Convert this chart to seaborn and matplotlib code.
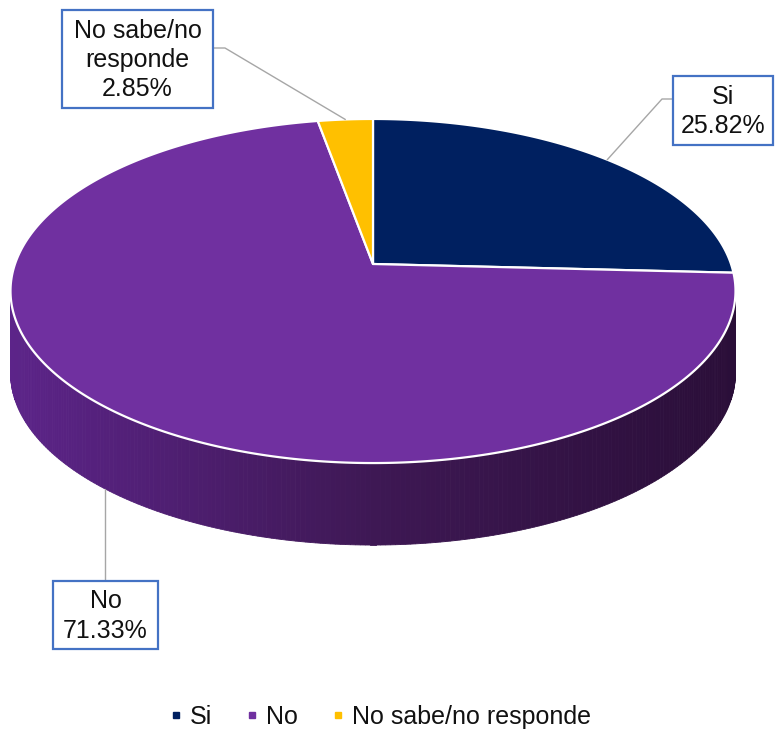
import numpy as np
import matplotlib
matplotlib.use("Agg")
import matplotlib.pyplot as plt
import seaborn as sns
from matplotlib.patches import Polygon, Rectangle
from matplotlib.lines import Line2D

# ---- data ----
categories = ["Si", "No", "No sabe/no responde"]
values = [25.82, 71.33, 2.85]
label_names = ["Si", "No", "No sabe/no\nresponde"]
slice_colors = ["#002060", "#7030A0", "#FFC000"]

sns.set_theme(style="white")
plt.rcParams["font.family"] = ["Liberation Sans", "DejaVu Sans"]
palette = sns.color_palette(slice_colors)

# ---- geometry of the tilted (perspective) pie ----
CX, CY = 373, 264
A, B, Q = 358, 167.8, 0.157
DEPTH = 82


def proj(theta_deg, depth=0.0):
    t = np.radians(theta_deg)
    X, Y = np.sin(t), np.cos(t)
    den = 1 + Q * Y
    return CX + A * X / den, CY - B * Y / den + depth


fig = plt.figure(figsize=(7.75, 7.30), dpi=100)
ax = fig.add_axes([0, 0, 1, 1])
ax.set_xlim(0, 775)
ax.set_ylim(730, 0)
ax.axis("off")

# ---- side wall (front half) ----
th_l = np.degrees(np.arccos(-Q))          # right extreme
th_r = 360 - th_l                          # left extreme
ths = np.linspace(th_l, th_r, 240)
c_left = np.array([92, 36, 137]) / 255
c_mid = np.array([62, 24, 84]) / 255
c_right = np.array([42, 14, 56]) / 255
for t0, t1 in zip(ths[:-1], ths[1:]):
    x0, y0 = proj(t0)
    x1, y1 = proj(t1)
    xm = (x0 + x1) / 2
    f = (xm - 11) / (736 - 11)
    if f < 0.5:
        col = c_left + (c_mid - c_left) * (f / 0.5)
    else:
        col = c_mid + (c_right - c_mid) * ((f - 0.5) / 0.5)
    col = np.clip(col, 0, 1)
    poly = Polygon([(x0, y0), (x1, y1), (x1, y1 + DEPTH), (x0, y0 + DEPTH)],
                   closed=True, facecolor=col, edgecolor=col, lw=0.6, zorder=1)
    ax.add_patch(poly)

# ---- top face slices ----
total = sum(values)
bounds = np.concatenate([[0], np.cumsum(values) / total * 360])
mids = []
for i in range(len(values)):
    a0, a1 = bounds[i], bounds[i + 1]
    arc = np.linspace(a0, a1, max(int((a1 - a0) * 2), 8))
    pts = [(CX, CY)] + [proj(a) for a in arc]
    ax.add_patch(Polygon(pts, closed=True, facecolor=palette[i],
                         edgecolor="white", lw=1.6, zorder=3, joinstyle="round"))
    mids.append((a0 + a1) / 2)

# ---- data labels with leader lines ----
lead_col = "#A6A6A6"
box_col = "#4472C4"
fs = 18

# label boxes: (x0, y0, x1, y1) in pixels
boxes = {
    "Si": (673, 76, 773, 145),
    "No": (53, 581, 158, 649),
    "No sabe/no responde": (62, 10, 213, 108),
}

for i, cat in enumerate(categories):
    bx0, by0, bx1, by1 = boxes[cat]
    ax.add_patch(Rectangle((bx0, by0), bx1 - bx0, by1 - by0, facecolor="white",
                           edgecolor=box_col, lw=1.6, zorder=5))
    txt = f"{label_names[i]}\n{values[i]:.2f}%"
    ax.text((bx0 + bx1) / 2, (by0 + by1) / 2 + 1, txt, ha="center", va="center",
            fontsize=fs, color="#111111", linespacing=1.27, zorder=6)

# leader lines
sx, sy = proj(mids[0])
ax.plot([sx, 662, 673], [sy, 99, 99], color=lead_col, lw=1.0, zorder=4)
nx, ny = proj(mids[1], DEPTH)
ax.plot([nx, nx], [ny, 581], color=lead_col, lw=1.0, zorder=4)
kx, ky = proj(mids[2])
ax.plot([kx, 225, 213], [ky, 48, 48], color=lead_col, lw=1.0, zorder=4)

# ---- legend ----
handles = [Line2D([], [], marker="s", ls="", color=palette[i], markersize=5)
           for i in range(len(categories))]
fig.legend(handles, categories, loc="center", bbox_to_anchor=(0.49, 1 - 717 / 730),
           ncol=3, frameon=False, fontsize=fs, handletextpad=0.25,
           columnspacing=1.3, handlelength=0.6, borderpad=0, labelcolor="#111111")

fig.savefig("out.png", dpi=100)
